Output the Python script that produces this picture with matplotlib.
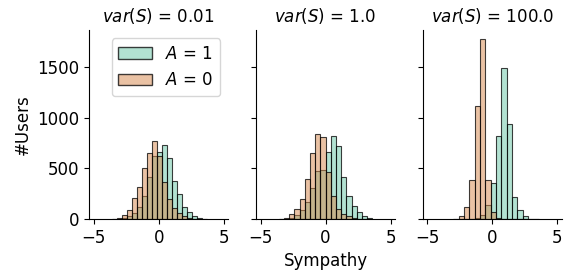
import matplotlib.pyplot as plt
import numpy as np
from matplotlib.patches import Patch

# panel titles (variance of S)
titles = ["$var(S)$ = 0.01", "$var(S)$ = 1.0", "$var(S)$ = 100.0"]

# histogram bins per panel: first edge and bin width
bin_start = [-3.56, -3.6, -3.0]
bin_width = [0.385, 0.4, 0.41]

# counts per bin, A = 1 group
counts_a1 = [
    [1, 4, 12, 30, 56, 122, 230, 418, 626, 660, 732, 606, 380, 250, 115, 65, 30, 12, 4],
    [0, 3, 12, 40, 89, 171, 303, 475, 490, 660, 824, 725, 418, 231, 132, 66, 30, 10],
    [0, 0, 2, 5, 10, 35, 140, 360, 821, 1490, 940, 215, 86, 33, 5, 1],
]
# counts per bin, A = 0 group
counts_a0 = [
    [3, 13, 36, 86, 204, 320, 501, 650, 771, 626, 369, 200, 110, 56, 25, 10, 3, 0, 0],
    [3, 12, 45, 95, 198, 392, 656, 841, 808, 470, 230, 100, 50, 25, 10, 3, 0, 0],
    [5, 30, 115, 386, 1118, 1777, 386, 65, 10, 2, 0, 0, 0, 0, 0, 0],
]

col_a1 = (0.40, 0.78, 0.65, 0.5)
col_a0 = (0.84, 0.53, 0.29, 0.5)
edge = (0, 0, 0, 0.75)

plt.rcParams["font.size"] = 12

fig, axes = plt.subplots(1, 3, figsize=(5.64, 2.76), dpi=100, sharey=True)
fig.subplots_adjust(left=0.158, right=0.9965, bottom=0.2065, top=0.891, wspace=0.2)

for i, ax in enumerate(axes):
    n = len(counts_a1[i])
    edges = bin_start[i] + bin_width[i] * np.arange(n)
    ax.bar(edges, counts_a1[i], width=bin_width[i], align="edge",
           facecolor=col_a1, edgecolor=edge, linewidth=0.8)
    ax.bar(edges, counts_a0[i], width=bin_width[i], align="edge",
           facecolor=col_a0, edgecolor=edge, linewidth=0.8)
    ax.set_title(titles[i], fontsize=12)
    ax.set_xlim(-5.35, 5.35)
    ax.set_xticks([-5, 0, 5])
    ax.spines["top"].set_visible(False)
    ax.spines["right"].set_visible(False)

axes[0].set_ylim(0, 1870)
axes[0].set_yticks([0, 500, 1000, 1500])
axes[0].set_ylabel("#Users")
axes[1].set_xlabel("Sympathy")

handles = [
    Patch(facecolor=col_a1, edgecolor=edge, label="$A$ = 1"),
    Patch(facecolor=col_a0, edgecolor=edge, label="$A$ = 0"),
]
axes[0].legend(handles=handles, loc="upper right")

plt.savefig("out.png", dpi=100)
